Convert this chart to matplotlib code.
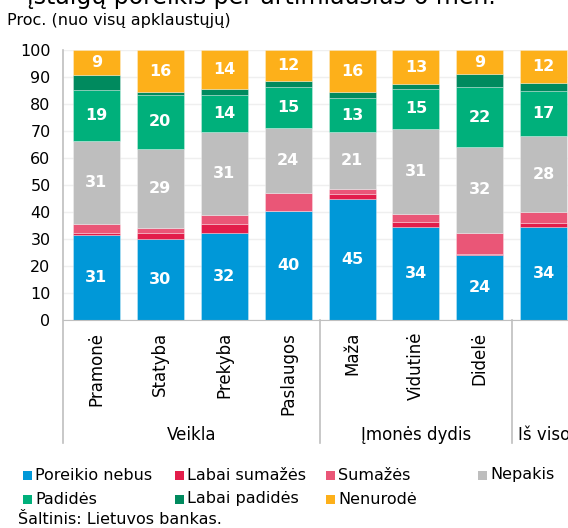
import matplotlib
matplotlib.use('Agg')
import matplotlib.pyplot as plt
import matplotlib.transforms as mtransforms
from matplotlib.patches import Rectangle
import numpy as np

# Data (percent of all respondents)
categories = ['Pramonė', 'Statyba', 'Prekyba', 'Paslaugos', 'Maža', 'Vidutinė', 'Didelė', '']
groups = ['Veikla', 'Įmonės dydis', 'Iš viso']
series_names = ['Poreikio nebus', 'Labai sumažės', 'Sumažės', 'Nepakis',
                'Padidės', 'Labai padidės', 'Nenurodė']
poreikio_nebus = [31.4, 30.0, 32.2, 40.2, 44.8, 34.3, 24.0, 34.3]
labai_sumazes = [0.8, 2.2, 3.5, 0.3, 1.9, 2.1, 0.6, 1.6]
sumazes = [3.5, 2.0, 3.3, 6.5, 1.7, 3.0, 7.7, 4.1]
nepakis = [30.6, 29.2, 30.6, 24.0, 21.1, 31.2, 31.7, 28.0]
padides = [18.9, 20.1, 13.7, 15.2, 12.6, 15.1, 22.3, 16.9]
labai_padides = [5.7, 0.9, 2.4, 2.2, 2.3, 1.7, 4.8, 2.7]
nenurode = [9.1, 15.6, 14.3, 11.6, 15.6, 12.6, 8.9, 12.4]

series = [poreikio_nebus, labai_sumazes, sumazes, nepakis, padides, labai_padides, nenurode]
colors = ['#0098D8', '#E31D4A', '#EA5677', '#BEBEBE', '#00B07B', '#008A5E', '#FDB01A']
labelled = [True, False, False, True, True, False, True]

plt.rcParams['font.family'] = ['DejaVu Sans']

W, H = 568, 528
fig = plt.figure(figsize=(W / 100, H / 100), dpi=100)

# axes placed in pixel terms: y=0 at 320 px, y=100 at 50 px, left axis at 63 px
ax = fig.add_axes([63 / W, (H - 320) / H, (W - 63) / W, 270 / H])

x = np.arange(len(categories))
bottom = np.zeros(len(categories))
for vals, col, show in zip(series, colors, labelled):
    bars = ax.bar(x, vals, width=0.735, bottom=bottom, color=col,
                  edgecolor=(1, 1, 1, 0.35), linewidth=0.6, zorder=2)
    if show:
        ax.bar_label(bars, labels=[f'{v:.0f}' for v in vals], label_type='center',
                     color='white', fontsize=11.5, fontweight='bold')
    bottom += np.array(vals)

ax.set_xlim(-0.524, 7.38)
ax.set_ylim(0, 100)
ax.set_yticks(range(0, 101, 10))
ax.yaxis.grid(True, color='#EFEFEF', linewidth=1, zorder=0)
ax.set_axisbelow(True)
ax.tick_params(axis='y', length=0, pad=9, labelsize=11.5)
ax.set_xticks(x, categories, rotation=90)
ax.tick_params(axis='x', length=0, pad=8.5, labelsize=12)

for side in ['left', 'right', 'top']:
    ax.spines[side].set_visible(False)
ax.spines['bottom'].set_color('#BFBFBF')

# group separators running down below the axis
trans = mtransforms.blended_transform_factory(ax.transData, ax.transAxes)
ax.plot([-0.524, -0.524], [-0.456, 1], transform=trans, color='#BFBFBF', lw=1.2, clip_on=False)
for sx in [3.5, 6.5]:
    ax.plot([sx, sx], [-0.456, 0], transform=trans, color='#BFBFBF', lw=1.2, clip_on=False)

group_centers = [(-0.524 + 3.5) / 2, 5.0, 7.0]
for gx, g in zip(group_centers, groups):
    ax.text(gx, -0.426, g, transform=trans, ha='center', va='center', fontsize=12)

# cut-off title at the very top and unit label
fig.text(27 / W, 1 - 4 / H, 'įstaigų poreikis per artimiausius 6 mėn.', fontsize=17,
         ha='left', va='baseline')
fig.text(7 / W, 1 - 20 / H, 'Proc. (nuo visų apklaustųjų)', fontsize=11.5, ha='left', va='center')

# legend drawn by hand in fixed columns
col_x = [23, 175, 326, 478]
row_y = [475, 499]
for i, (name, col) in enumerate(zip(series_names, colors)):
    r, c = divmod(i, 4)
    px, py = col_x[c], row_y[r]
    fig.patches.append(Rectangle((px / W, 1 - (py + 4.5) / H), 9 / W, 9 / H,
                                 transform=fig.transFigure, facecolor=col, edgecolor='none'))
    fig.text((px + 12) / W, 1 - py / H, name, fontsize=11.5, ha='left', va='center')

fig.text(18 / W, 1 - 520 / H, 'Šaltinis: Lietuvos bankas.', fontsize=11.5, ha='left', va='center')

fig.savefig('out.png', dpi=100)
